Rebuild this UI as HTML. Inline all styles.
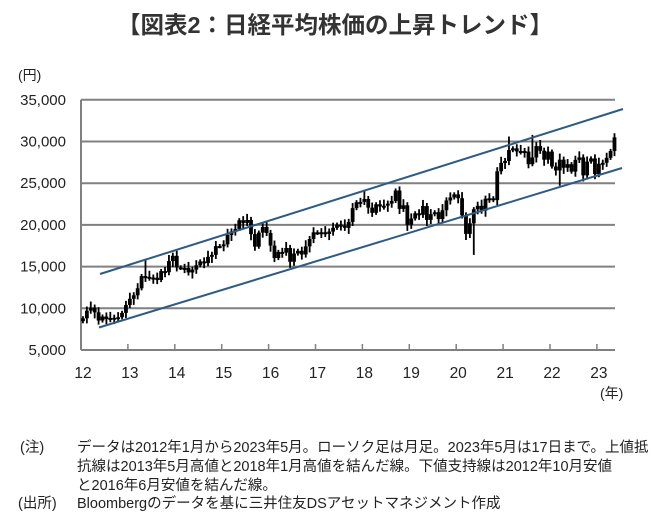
<!DOCTYPE html>
<html><head><meta charset="utf-8"><style>
body{margin:0;background:#fff;width:671px;height:516px;overflow:hidden;font-family:"Liberation Sans","Noto Sans CJK JP",sans-serif;}
</style></head><body>
<svg id="s" width="671" height="516" xmlns="http://www.w3.org/2000/svg" style="position:absolute;left:0;top:0">
<text x="335" y="33" text-anchor="middle" font-size="23.5" font-weight="bold" fill="#333" font-family="Liberation Sans,Noto Sans CJK JP,sans-serif">【図表2：日経平均株価の上昇トレンド】</text>
<text x="18" y="80" font-size="14" fill="#222" font-family="Liberation Sans,Noto Sans CJK JP,sans-serif">(円)</text>
<g id="grid"></g>
<g id="cand"></g>
<line x1="100" y1="274" x2="623" y2="109" stroke="#2d5b86" stroke-width="2"/>
<line x1="99" y1="327.5" x2="622" y2="168" stroke="#2d5b86" stroke-width="2"/>
<text x="600" y="398" font-size="14" fill="#222" font-family="Liberation Sans,Noto Sans CJK JP,sans-serif">(年)</text>
<g font-size="14.5" fill="#222" font-family="Liberation Sans,Noto Sans CJK JP,sans-serif">
<text x="20" y="452">(注)</text>
<text x="77" y="452">データは2012年1月から2023年5月。ローソク足は月足。2023年5月は17日まで。上値抵</text>
<text x="77" y="471">抗線は2013年5月高値と2018年1月高値を結んだ線。下値支持線は2012年10月安値</text>
<text x="77" y="490">と2016年6月安値を結んだ線。</text>
<text x="18" y="508">(出所)</text>
<text x="77" y="508">Bloombergのデータを基に三井住友DSアセットマネジメント作成</text>
</g>
</svg>
<script>
var NS="http://www.w3.org/2000/svg";
function el(p,t,a){var e=document.createElementNS(NS,t);for(var k in a)e.setAttribute(k,a[k]);p.appendChild(e);return e;}
var g=document.getElementById('grid'),c=document.getElementById('cand');
function Y(v){return 350-(v-5000)*41.7/5000;}
var L=81,R=615;
for(var v=5000;v<=35000;v+=5000){var y=Y(v);
 el(g,'line',{x1:L,x2:R,y1:y,y2:y,stroke:'#808080','stroke-width':2});
 var t=el(g,'text',{x:66,y:y+5,'text-anchor':'end','font-size':15,fill:'#222','font-family':'Liberation Sans,sans-serif'});t.textContent=v.toLocaleString('en-US');}
el(g,'line',{x1:L,x2:L,y1:Y(35000),y2:350,stroke:'#808080','stroke-width':2});
for(var i=0;i<12;i++){var x=81+i*46.9;
 if(i>0)el(g,'line',{x1:x,x2:x,y1:350,y2:344,stroke:'#808080','stroke-width':1.5});
 var t=el(g,'text',{x:x+2,y:378,'text-anchor':'middle','font-size':15.5,fill:'#222','font-family':'Liberation Sans,sans-serif'});t.textContent=12+i;}
var d=[8800,9720,10080,9520,8540,9010,8700,8840,8870,8930,9450,10400,
11140,11560,12400,13860,13770,13680,13670,13390,14460,14330,15660,16290,
14910,14840,14830,14300,14630,15160,15620,15420,16170,16410,17460,17450,
17670,18800,19210,19520,20560,20240,20590,18890,17390,19080,19750,19030,
17520,16030,16760,16670,17230,15580,16570,16890,16450,17430,18310,19110,
19040,19120,18910,19200,19650,20030,19930,19650,20360,22010,22720,22760,
23100,22070,21450,22470,22200,22300,22550,22870,24120,21920,22350,20010,
20770,21390,21210,22260,20600,21280,21520,20700,21760,22930,23290,23660,
23200,21140,18920,20190,21880,22290,21710,23140,23190,22980,26430,27440,
27660,28970,29180,28810,28860,28790,27280,28090,29450,28890,27820,28790,
27000,26530,27820,26850,27280,26390,27800,28090,25940,27590,27970,26090,
27330,27450,28040,28860,30500];
var prev=8450;
for(var i=0;i<d.length;i++){
 var o=prev,cl=d[i],hi=Math.max(o,cl)+250+((i*37)%5)*120,lo=Math.min(o,cl)-250-((i*53)%5)*120;
 if(i==100)lo=16400; if(i==16)hi=15900; if(i==72)hi=24100; if(i==109)hi=30600; if(i==115)hi=30800; if(i==122)lo=24700;
 var x=81+(i+0.5)*46.9/12;
 el(c,'line',{x1:x,x2:x,y1:Y(hi),y2:Y(lo),stroke:'#000','stroke-width':1.8});
 var y1=Y(Math.max(o,cl)),y2=Y(Math.min(o,cl));
 el(c,'rect',{x:x-1.9,y:y1,width:3.8,height:Math.max(2,y2-y1),fill:'#000'});
 prev=cl;}
</script>
</body></html>
